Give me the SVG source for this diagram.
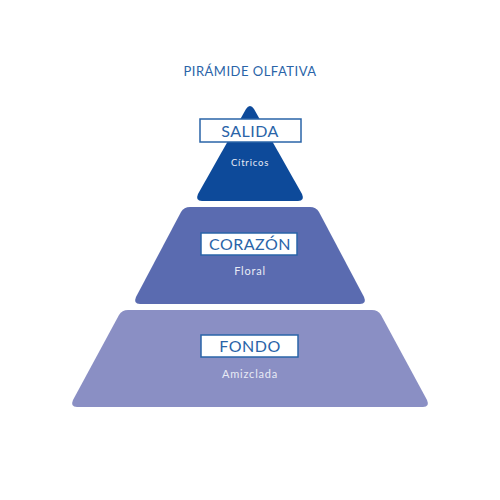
<svg xmlns="http://www.w3.org/2000/svg" width="500" height="500" viewBox="0 0 500 500">
<style>
.t{font-family:Lato,"Open Sans",sans-serif;text-anchor:middle}
.box{fill:#fff;stroke:#2a64a8;stroke-width:1.5}
.lbl{fill:#2a64a8;font-size:16px;letter-spacing:0.5px}
.sub{fill:#e8ebf5;letter-spacing:0.8px}
</style>
<rect width="500" height="500" fill="#fff"/>
<text class="t" x="250" y="76" fill="#2a64a8" font-size="13" letter-spacing="0.5">PIRÁMIDE OLFATIVA</text>
<g id="fondo">
<path d="M128,310 L372,310 Q378,310 381,315 L427,400 Q430,407 423,407 L77,407 Q70,407 73,400 L119,315 Q122,310 128,310 Z" fill="#8a8fc4"/>
<rect class="box" x="201" y="335" width="97" height="22"/>
<text class="t lbl" x="250" y="352">FONDO</text>
<text class="t sub" x="250" y="378" font-size="11">Amizclada</text>
</g>
<g id="corazon">
<path d="M190,207 L310,207 Q316,207 319,212 L364,297 Q367,304 360,304 L140,304 Q133,304 136,297 L181,212 Q184,207 190,207 Z" fill="#5a6bb0"/>
<rect class="box" x="201" y="233" width="96" height="22"/>
<text class="t lbl" x="250" y="250">CORAZÓN</text>
<text class="t sub" x="250" y="275" font-size="11">Floral</text>
</g>
<g id="salida">
<path d="M246,109 Q250,103 254,109 L302,194 Q305,201 298,201 L202,201 Q195,201 198,194 Z" fill="#0d4a9a"/>
<rect class="box" x="200" y="119" width="101" height="23"/>
<text class="t lbl" x="250" y="137">SALIDA</text>
<text class="t sub" x="250" y="166" font-size="9.5" letter-spacing="0.3">Cítricos</text>
</g>
</svg>
